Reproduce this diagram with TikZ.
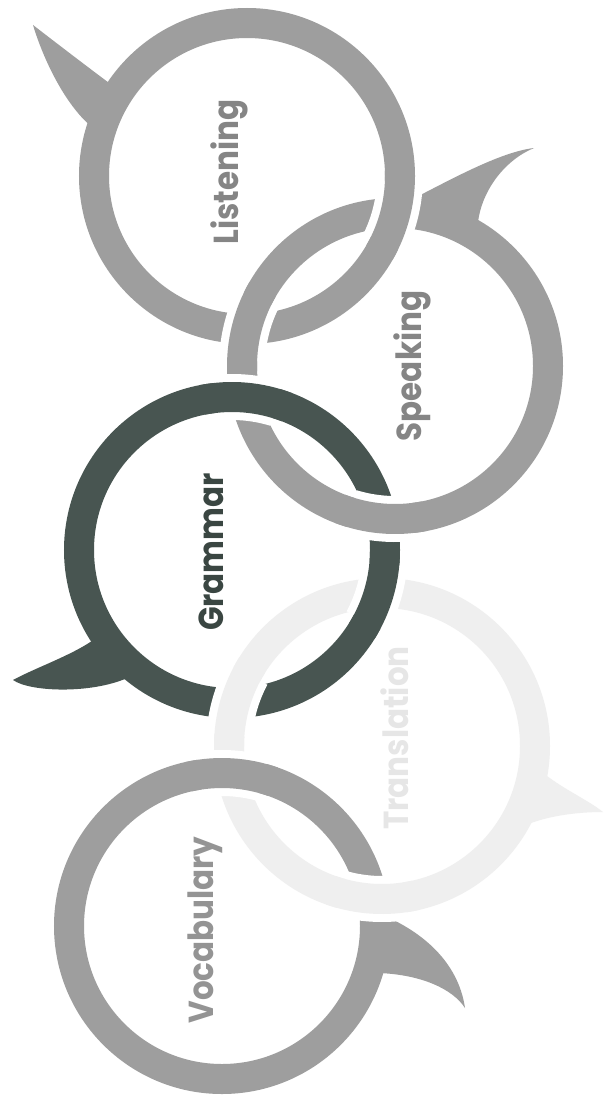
\documentclass[tikz,border=0pt]{standalone}
\usepackage{fontspec}
\setmainfont{Poppins}
\definecolor{ringgray}{HTML}{9E9E9E}
\definecolor{ringdark}{HTML}{485551}
\definecolor{ringfaint}{HTML}{EFEFEF}
\definecolor{txtgray}{HTML}{858585}
\definecolor{txtlight}{HTML}{949494}
\definecolor{txtdark}{HTML}{3A4642}
\definecolor{txtfaint}{HTML}{E6E6E6}
\newcommand\ringover[4]{%
  \draw[white, line width=46pt] (#1) ++(#2:153) arc[start angle=#2, end angle=#3, radius=153];
  \draw[#4, line width=30pt] (#1) ++(#2-4:153) arc[start angle=#2-4, end angle=#3+4, radius=153];}
\tikzset{
  band/.style={line width=30pt},
  lbl/.style={rotate=90, yscale=1.12, inner sep=0pt, font=\fontsize{31}{31}\selectfont\bfseries},
}
\begin{document}
\begin{tikzpicture}[x=1pt,y=-1pt]
\useasboundingbox (0,0) rectangle (609,1105);
\fill[white] (0,0) rectangle (609,1105);
\coordinate (L) at (247,176);
\coordinate (S) at (395,366);
\coordinate (G) at (232,550);
\coordinate (T) at (382,746);
\coordinate (V) at (222,926);
% base rings
\draw[ringfaint, band] (T) circle[radius=153];
\draw[ringgray, band] (L) circle[radius=153];
\draw[ringgray, band] (S) circle[radius=153];
\draw[ringdark, band] (G) circle[radius=153];
\draw[ringgray, band] (V) circle[radius=153];
% tails
\fill[ringgray] (109.4,83.2) .. controls (85,65) and (55,42) .. (33,25)
  .. controls (42,55) and (62,100) .. (89.1,124.7)
  arc[start angle=198, end angle=214, radius=166] -- cycle;
\fill[ringgray] (409.5,200.6) .. controls (450,180) and (500,152) .. (534,148)
  .. controls (505,160) and (482,190) .. (478,222.2)
  arc[start angle=300, end angle=275, radius=166] -- cycle;
\fill[ringdark] (92.8,640.4) .. controls (70,656) and (35,668) .. (13,680)
  .. controls (30,692) and (90,694) .. (126.6,678.3)
  arc[start angle=129.4, end angle=147, radius=166] -- cycle;
\fill[ringfaint] (545.5,774.8) .. controls (565,790) and (588,800) .. (603,812)
  .. controls (580,812) and (552,815) .. (528.6,823.9)
  arc[start angle=28, end angle=10, radius=166] -- cycle;
\fill[ringgray] (387.8,917.3) .. controls (420,932) and (458,960) .. (465,1008)
  .. controls (452,988) and (420,975) .. (381.2,973.1)
  arc[start angle=16.5, end angle=-3, radius=166] -- cycle;
% interlocking crossings
\ringover{L}{2}{26}{ringgray}
\ringover{G}{5}{28}{ringdark}
\ringover{G}{263}{287}{ringdark}
\ringover{S}{182}{206}{ringgray}
\ringover{S}{83}{107}{ringgray}
\ringover{T}{184}{208}{ringfaint}
\ringover{T}{81.5}{105.5}{ringfaint}
\ringover{V}{261.5}{285.5}{ringgray}
% labels
\node[lbl, text=txtgray] (listening) at (229,172) {Listening};
\node[lbl, text=txtgray] (speaking) at (412,366) {Speaking};
\node[lbl, text=txtdark] (grammar) at (211,552) {Grammar};
\node[lbl, text=txtfaint] (translation) at (395,738) {Translation};
\node[lbl, text=txtlight] (vocabulary) at (205,930) {Vocabulary};
\end{tikzpicture}
\end{document}
